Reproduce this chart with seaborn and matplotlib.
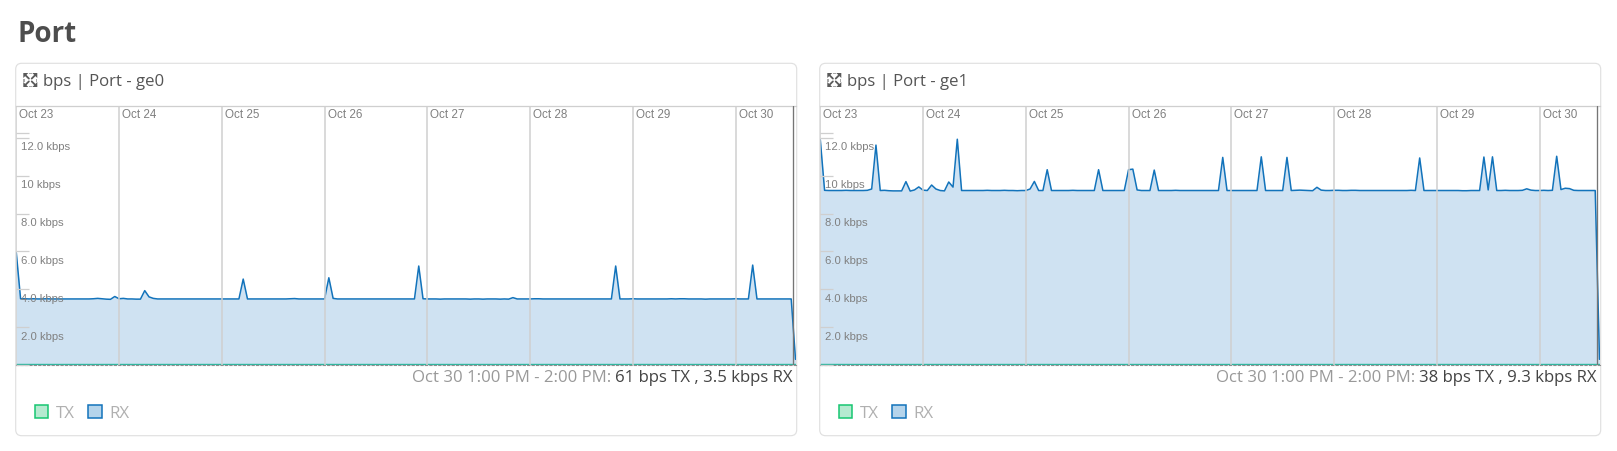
import matplotlib
matplotlib.use("Agg")
import matplotlib.pyplot as plt
import matplotlib.transforms as mtrans
from matplotlib.patches import FancyBboxPatch, Patch, Polygon
import pandas as pd
import seaborn as sns

# hourly samples, Oct 23 00:00 onward, kbps
ge0_rx = [
    5.93,3.50,3.50,3.49,3.50,3.49,3.49,3.50,3.49,3.49,3.49,3.49,3.49,3.49,3.49,3.49,3.49,3.49,3.50,3.52,3.50,3.48,3.47,3.62,
    3.50,3.52,3.49,3.49,3.48,3.48,3.93,3.60,3.52,3.49,3.49,3.49,3.49,3.49,3.49,3.49,3.49,3.49,3.49,3.49,3.49,3.49,3.49,3.49,
    3.49,3.49,3.49,3.49,3.49,4.54,3.49,3.49,3.49,3.49,3.49,3.49,3.49,3.49,3.49,3.49,3.50,3.51,3.49,3.49,3.49,3.49,3.49,3.49,
    3.49,4.61,3.52,3.49,3.49,3.49,3.49,3.49,3.49,3.49,3.49,3.49,3.49,3.49,3.49,3.49,3.49,3.49,3.49,3.49,3.49,3.49,5.23,3.50,
    3.49,3.49,3.49,3.48,3.49,3.49,3.49,3.49,3.49,3.49,3.48,3.49,3.49,3.48,3.49,3.49,3.49,3.48,3.49,3.48,3.56,3.49,3.49,3.49,
    3.49,3.50,3.50,3.49,3.49,3.49,3.49,3.49,3.49,3.49,3.49,3.49,3.49,3.49,3.49,3.49,3.49,3.49,3.49,3.49,5.23,3.49,3.49,3.49,
    3.50,3.49,3.49,3.49,3.49,3.49,3.49,3.49,3.49,3.50,3.49,3.50,3.50,3.49,3.49,3.49,3.49,3.48,3.49,3.49,3.49,3.49,3.49,3.49,
    3.50,3.49,3.49,3.49,5.28,3.49,3.49,3.49,3.49,3.49,3.49,3.49,3.49,3.49,0.30,
]
ge1_rx = [
    11.90,9.23,9.22,9.22,9.22,9.22,9.23,9.22,9.22,9.22,9.22,9.23,9.30,11.62,9.22,9.23,9.21,9.20,9.20,9.20,9.69,9.19,9.25,9.41,
    9.24,9.22,9.51,9.30,9.22,9.20,9.67,9.40,11.93,9.22,9.22,9.22,9.22,9.22,9.22,9.23,9.22,9.22,9.22,9.23,9.22,9.22,9.21,9.22,
    9.22,9.30,9.70,9.22,9.22,10.32,9.22,9.22,9.22,9.22,9.22,9.23,9.22,9.22,9.22,9.22,9.22,10.32,9.22,9.22,9.22,9.22,9.22,9.22,
    10.32,10.35,9.25,9.22,9.22,9.22,10.30,9.22,9.22,9.22,9.22,9.23,9.22,9.22,9.22,9.22,9.22,9.22,9.22,9.22,9.22,9.22,10.97,9.22,
    9.22,9.22,9.22,9.22,9.22,9.22,9.22,11.00,9.22,9.22,9.22,9.22,9.22,10.97,9.22,9.23,9.24,9.23,9.22,9.21,9.39,9.24,9.22,9.22,
    9.23,9.23,9.22,9.22,9.23,9.23,9.22,9.22,9.22,9.22,9.22,9.22,9.22,9.22,9.22,9.22,9.22,9.22,9.23,9.22,10.94,9.22,9.22,9.22,
    9.22,9.22,9.22,9.22,9.22,9.22,9.21,9.21,9.22,9.22,9.22,10.99,9.25,11.00,9.22,9.22,9.23,9.22,9.22,9.22,9.23,9.31,9.24,9.22,
    9.22,9.23,9.22,9.23,11.03,9.27,9.34,9.32,9.23,9.22,9.22,9.22,9.22,9.22,0.30,
]
ge0_tx = [
    0.06,0.06,0.06,0.06,0.06,0.06,0.06,0.06,0.06,0.06,0.06,0.06,0.06,0.06,0.06,0.06,0.06,0.06,0.06,0.06,0.06,0.06,0.06,0.06,
    0.06,0.06,0.06,0.06,0.06,0.06,0.06,0.06,0.06,0.06,0.06,0.06,0.06,0.06,0.06,0.06,0.06,0.06,0.06,0.06,0.06,0.06,0.06,0.06,
    0.06,0.06,0.06,0.06,0.06,0.06,0.06,0.06,0.06,0.06,0.06,0.06,0.06,0.06,0.06,0.06,0.06,0.06,0.06,0.06,0.06,0.06,0.06,0.06,
    0.06,0.06,0.06,0.06,0.06,0.06,0.06,0.06,0.06,0.06,0.06,0.06,0.06,0.06,0.06,0.06,0.06,0.06,0.06,0.06,0.06,0.06,0.06,0.06,
    0.06,0.06,0.06,0.06,0.06,0.06,0.06,0.06,0.06,0.06,0.06,0.06,0.06,0.06,0.06,0.06,0.06,0.06,0.06,0.06,0.06,0.06,0.06,0.06,
    0.06,0.06,0.06,0.06,0.06,0.06,0.06,0.06,0.06,0.06,0.06,0.06,0.06,0.06,0.06,0.06,0.06,0.06,0.06,0.06,0.06,0.06,0.06,0.06,
    0.06,0.06,0.06,0.06,0.06,0.06,0.06,0.06,0.06,0.06,0.06,0.06,0.06,0.06,0.06,0.06,0.06,0.06,0.06,0.06,0.06,0.06,0.06,0.06,
    0.06,0.06,0.06,0.06,0.06,0.06,0.06,0.06,0.06,0.06,0.06,0.06,0.06,0.06,0.06,
]
ge1_tx = [
    0.04,0.04,0.04,0.04,0.04,0.04,0.04,0.04,0.04,0.04,0.04,0.04,0.04,0.04,0.04,0.04,0.04,0.04,0.04,0.04,0.04,0.04,0.04,0.04,
    0.04,0.04,0.04,0.04,0.04,0.04,0.04,0.04,0.04,0.04,0.04,0.04,0.04,0.04,0.04,0.04,0.04,0.04,0.04,0.04,0.04,0.04,0.04,0.04,
    0.04,0.04,0.04,0.04,0.04,0.04,0.04,0.04,0.04,0.04,0.04,0.04,0.04,0.04,0.04,0.04,0.04,0.04,0.04,0.04,0.04,0.04,0.04,0.04,
    0.04,0.04,0.04,0.04,0.04,0.04,0.04,0.04,0.04,0.04,0.04,0.04,0.04,0.04,0.04,0.04,0.04,0.04,0.04,0.04,0.04,0.04,0.04,0.04,
    0.04,0.04,0.04,0.04,0.04,0.04,0.04,0.04,0.04,0.04,0.04,0.04,0.04,0.04,0.04,0.04,0.04,0.04,0.04,0.04,0.04,0.04,0.04,0.04,
    0.04,0.04,0.04,0.04,0.04,0.04,0.04,0.04,0.04,0.04,0.04,0.04,0.04,0.04,0.04,0.04,0.04,0.04,0.04,0.04,0.04,0.04,0.04,0.04,
    0.04,0.04,0.04,0.04,0.04,0.04,0.04,0.04,0.04,0.04,0.04,0.04,0.04,0.04,0.04,0.04,0.04,0.04,0.04,0.04,0.04,0.04,0.04,0.04,
    0.04,0.04,0.04,0.04,0.04,0.04,0.04,0.04,0.04,0.04,0.04,0.04,0.04,0.04,0.04,
]
day_labels = ["Oct 23", "Oct 24", "Oct 25", "Oct 26", "Oct 27", "Oct 28", "Oct 29", "Oct 30"]
y_ticks = [0, 2, 4, 6, 8, 10, 12, 12.24]
y_labels = ["", "2.0 kbps", "4.0 kbps", "6.0 kbps", "8.0 kbps", "10 kbps", "12.0 kbps", ""]
panel_titles = ["bps | Port - ge0", "bps | Port - ge1"]
hover_range = "Oct 30 1:00 PM - 2:00 PM:"
hover_values = ["61 bps TX , 3.5 kbps RX", "38 bps TX , 9.3 kbps RX"]
legend_labels = ["TX", "RX"]

W, H = 1617, 451
LINE, FILL, TXLINE = "#1273bb", "#cfe2f2", "#2fb8a0"
sns.set_theme(style="white")
plt.rcParams["font.family"] = ["Open Sans", "DejaVu Sans"]
fig = plt.figure(figsize=(W / 100, H / 100), dpi=100, facecolor="white")
times = pd.date_range("2023-10-23", periods=len(ge0_rx), freq="h")
day_ticks = pd.date_range("2023-10-23", periods=8, freq="D")
ident = mtrans.IdentityTransform()


def px(x, y):
    return x / W, 1 - y / H


def icon(x0, y0):
    s = 14.0
    c = "#5a5a5a"
    for sx, sy in [(0, 0), (1, 0), (0, 1), (1, 1)]:
        cx = x0 + sx * s
        cy = y0 + sy * s
        dx = 1 if sx == 0 else -1
        dy = 1 if sy == 0 else -1
        pts = [px(cx, cy), px(cx + dx * 5.0, cy), px(cx, cy + dy * 5.0)]
        fig.add_artist(Polygon(pts, closed=True, color=c, lw=0, transform=fig.transFigure))
        p0, p1 = px(cx + dx * 2, cy + dy * 2), px(cx + dx * 5.6, cy + dy * 5.6)
        fig.add_artist(plt.Line2D([p0[0], p1[0]], [p0[1], p1[1]], color=c, lw=1.3, transform=fig.transFigure))
    for a, b, c2, d in [(5.5, 0, 8.5, 1.2), (5.5, 12.8, 8.5, 14), (0, 5.5, 1.2, 8.5), (12.8, 5.5, 14, 8.5)]:
        pts = [px(x0 + a, y0 + b), px(x0 + c2, y0 + b), px(x0 + c2, y0 + d), px(x0 + a, y0 + d)]
        fig.add_artist(Polygon(pts, closed=True, color="#a8a8a8", lw=0, transform=fig.transFigure))


def draw_panel(left, rx, tx, title, hover_val):
    fig.add_artist(FancyBboxPatch((left, H - 435.7), 781, 372.4,
                                  boxstyle="round,pad=0,rounding_size=6", transform=ident,
                                  fc="white", ec="#e0e0e0", lw=0.85, zorder=-1))
    ax = fig.add_axes([(left + 0.6) / W, (H - 365) / H, 779.2 / W, 258.7 / H])
    df = pd.DataFrame({"time": times, "rx": rx, "tx": tx})
    ax.fill_between(df["time"], 0, df["rx"], color=FILL, lw=0, zorder=1)
    ax.fill_between(df["time"], 0, df["tx"], color="#b5ead0", lw=0, zorder=1.1)
    sns.lineplot(data=df, x="time", y="rx", ax=ax, color=LINE, linewidth=1.1, zorder=2)
    sns.lineplot(data=df, x="time", y="tx", ax=ax, color=TXLINE, linewidth=1.0, zorder=2.1)
    ax.set_xlim(times[0], times[-1])
    ax.set_ylim(0, 13.67)
    ax.set_xlabel("")
    ax.set_ylabel("")
    ax.set_facecolor("white")
    ax.patch.set_alpha(0)
    for s in ["left", "right"]:
        ax.spines[s].set_visible(False)
    ax.spines["top"].set_color("#cfcfcf")
    ax.spines["top"].set_linewidth(0.9)
    ax.spines["bottom"].set_color("#8f8f8f")
    ax.spines["bottom"].set_linewidth(0.8)
    ax.spines["bottom"].set_linestyle((0, (2, 2)))

    ax.set_axisbelow(False)
    ax.set_xticks(day_ticks)
    ax.set_xticklabels(day_labels)
    ax.grid(axis="x", color="#cfcfcf", lw=1.1)
    ax.grid(axis="y", visible=False)
    ax.tick_params(axis="x", length=0, labelbottom=False, labeltop=True, labelsize=8.4, labelcolor="#808080")
    for t in ax.xaxis.get_major_ticks():
        t.label2.set_fontfamily("Liberation Sans")
        t.label2.set_ha("left")
        t.label2.set_va("center")
        t.label2.set_transform(mtrans.offset_copy(ax.get_xaxis_transform(), fig=fig, x=3.0, y=-8.8, units="dots"))

    ax.set_yticks(y_ticks)
    ax.set_yticklabels(y_labels)
    ax.tick_params(axis="y", direction="in", left=True, length=9.6, width=0.9, color="#cfcfcf",
                   labelsize=8.15, labelcolor="#808080")
    for t in ax.yaxis.get_major_ticks():
        t.label1.set_fontfamily("Liberation Sans")
        t.label1.set_ha("left")
        t.label1.set_va("center")
        t.label1.set_transform(mtrans.offset_copy(ax.get_yaxis_transform(), fig=fig, x=5.0, y=-9.4, units="dots"))

    hover = times[-2] + pd.Timedelta(minutes=20)
    ax.axvline(hover, color="#757575", lw=0.95, zorder=3)

    handles = [Patch(fc="#b5ead0", ec="#17c671", lw=1.1), Patch(fc="#b5d4eb", ec=LINE, lw=1.1)]
    leg = ax.legend(handles, legend_labels, ncol=2, frameon=False, loc="center left",
                    bbox_to_anchor=(left + 19.2, H - 413.5), bbox_transform=ident, fontsize=12.2,
                    handlelength=0.8, handleheight=0.8, handletextpad=0.45, columnspacing=0.78,
                    borderpad=0, borderaxespad=0)
    for t in leg.get_texts():
        t.set_color("#b0b0b0")

    fig.text(*px(left + 27.6, 82), title, fontsize=12.1, color="#555555", ha="left", va="center")
    icon(left + 7.6, 73)
    vt = fig.text(*px(left + 777, 377.6), hover_val, fontsize=12.05, color="#444444", ha="right", va="center")
    fig.canvas.draw()
    bb = vt.get_window_extent()
    fig.text((bb.x0 - 4) / W, 1 - 377.6 / H, hover_range, fontsize=12.05, color="#999999", ha="right", va="center")


fig.text(*px(17, 34), "Port", fontsize=20, fontweight="bold", color="#4d4d4d", ha="left", va="center")
draw_panel(15.7, ge0_rx, ge0_tx, panel_titles[0], hover_values[0])
draw_panel(819.7, ge1_rx, ge1_tx, panel_titles[1], hover_values[1])
fig.savefig("out.png", dpi=100)
